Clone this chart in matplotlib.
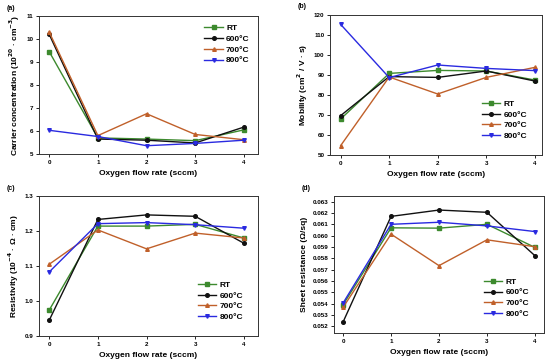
import matplotlib
matplotlib.use("Agg")
import matplotlib.pyplot as plt

plt.rcParams['font.family'] = ['Liberation Sans', 'DejaVu Sans']
plt.rcParams['font.weight'] = 'bold'

flow = [0, 1, 2, 3, 4]
series_names = ["RT", "600°C", "700°C", "800°C"]

carrier_RT = [9.45, 5.7, 5.65, 5.58, 6.05]
carrier_600 = [10.2, 5.65, 5.6, 5.48, 6.17]
carrier_700 = [10.3, 5.8, 6.75, 5.85, 5.62]
carrier_800 = [6.03, 5.76, 5.36, 5.46, 5.6]

mobility_RT = [68.0, 90.8, 92.3, 92.0, 87.5]
mobility_600 = [69.7, 89.2, 88.8, 92.0, 87.0]
mobility_700 = [54.7, 89.0, 80.5, 88.8, 93.8]
mobility_800 = [115.3, 88.7, 95.0, 93.3, 92.2]

resist_RT = [0.974, 1.214, 1.214, 1.219, 1.18]
resist_600 = [0.945, 1.233, 1.246, 1.242, 1.165]
resist_700 = [1.105, 1.203, 1.149, 1.194, 1.18]
resist_800 = [1.083, 1.221, 1.224, 1.218, 1.208]

sheet_RT = [0.0539, 0.06069, 0.06066, 0.06100, 0.05896]
sheet_600 = [0.05238, 0.0617, 0.06226, 0.06206, 0.05823]
sheet_700 = [0.05367, 0.06013, 0.05735, 0.05963, 0.05902]
sheet_800 = [0.05405, 0.0610, 0.06118, 0.06086, 0.06036]

colors = ["#3d8a2e", "#111111", "#c0602a", "#2a2ae0"]
markers = ["s", "o", "^", "v"]

W, H = 550, 362
fig = plt.figure(figsize=(5.5, 3.62), dpi=100)

def add_ax(l, r, t, b):
    return fig.add_axes([l / W, 1 - b / H, (r - l) / W, (b - t) / H])

panels = [
    dict(box=(39, 258, 16, 154), data=[carrier_RT, carrier_600, carrier_700, carrier_800],
         ylim=(5, 11), yticks=[5, 6, 7, 8, 9, 10, 11], yfmt="{:g}", xlim=(-0.21, 4.29),
         ylabel="Carrier concentration (10$^{20}$ · cm$^{-3}$)", tag="(a)", loc="upper right", pad=0.6),
    dict(box=(330, 542, 15, 155), data=[mobility_RT, mobility_600, mobility_700, mobility_800],
         ylim=(50, 120), yticks=list(range(50, 121, 10)), yfmt="{:g}", xlim=(-0.22, 4.15),
         ylabel="Mobility (cm$^{2}$ / V · s)", tag="(b)", loc="lower right", pad=1.4),
    dict(box=(39, 258, 196, 336), data=[resist_RT, resist_600, resist_700, resist_800],
         ylim=(0.9, 1.3), yticks=[0.9, 1.0, 1.1, 1.2, 1.3], yfmt="{:.1f}", xlim=(-0.21, 4.29),
         ylabel="Resistivity (10$^{-4}$ · Ω · cm)", tag="(c)", loc="lower right", pad=1.4),
    dict(box=(334, 544, 196, 333), data=[sheet_RT, sheet_600, sheet_700, sheet_800],
         ylim=(0.0514, 0.0635), yticks=[0.052 + 0.001 * i for i in range(12)], yfmt="{:.3f}",
         xlim=(-0.19, 4.19), ylabel="Sheet resistance (Ω/sq)", tag="(d)", loc="lower right", pad=1.4),
]

for p in panels:
    ax = add_ax(*p["box"])
    for vals, name, c, m in zip(p["data"], series_names, colors, markers):
        ax.plot(flow, vals, color=c, marker=m, markersize=2.6, linewidth=1.0, label=name)
    ax.set_xlim(*p["xlim"])
    ax.set_ylim(*p["ylim"])
    ax.set_xticks(flow)
    ax.set_xticklabels([str(v) for v in flow])
    ax.set_yticks(p["yticks"])
    ax.set_yticklabels([p["yfmt"].format(v) for v in p["yticks"]])
    ax.tick_params(direction="out", length=2, width=0.6, labelsize=4.5, pad=2)
    for s in ax.spines.values():
        s.set_linewidth(0.7)
        s.set_color("#333333")
    ax.set_xlabel("Oxygen flow rate (sccm)", fontsize=6, fontweight="bold", labelpad=4)
    ax.set_ylabel(p["ylabel"], fontsize=6, fontweight="bold", labelpad=3)
    leg = ax.legend(loc=p["loc"], frameon=False, fontsize=6, handlelength=2.2,
                    labelspacing=0.35, borderaxespad=p["pad"], handletextpad=0.4)
    l, r, t, b = p["box"]
    fig.text((l - 32) / W, 1 - (t - 8) / H, p["tag"], fontsize=5, fontweight="bold",
             ha="left", va="center")

fig.savefig("out.png", dpi=100)
